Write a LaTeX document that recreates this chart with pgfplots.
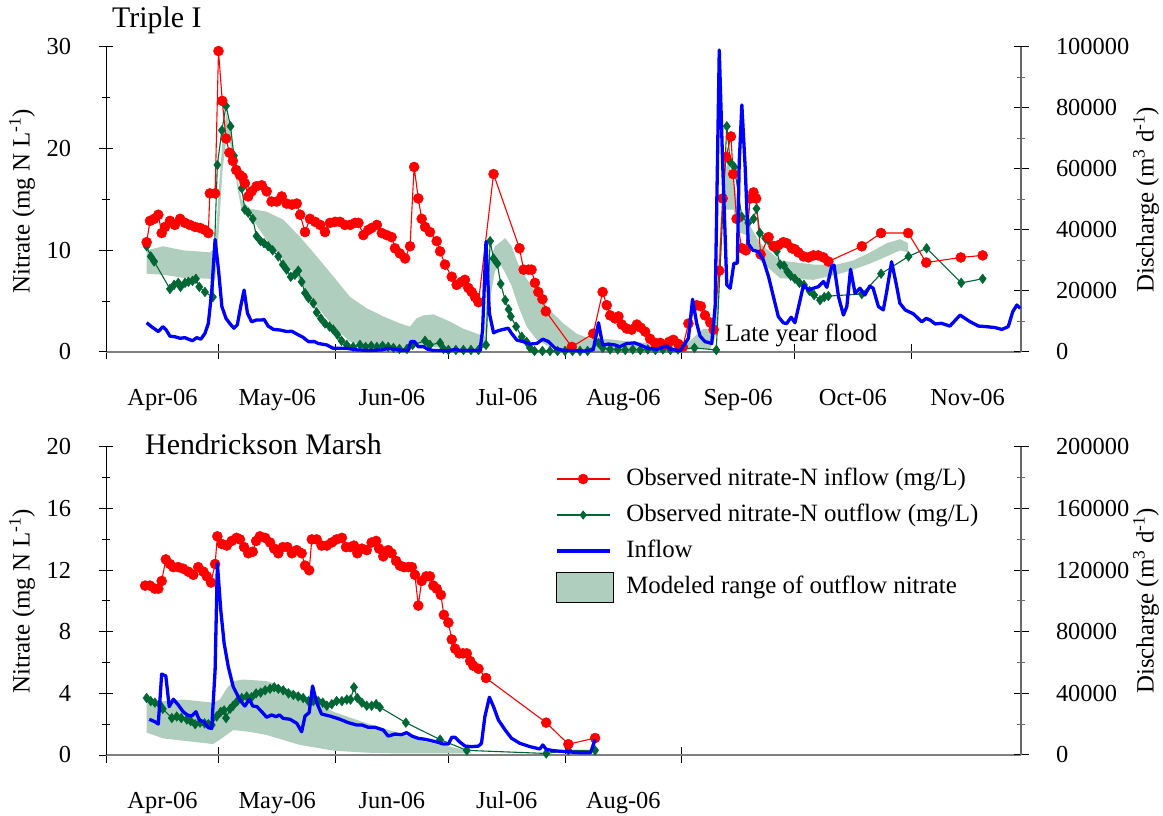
\documentclass[border=0pt]{standalone}
\usepackage{fontspec}
\setmainfont{Liberation Serif}
\usepackage{pgfplots}
\pgfplotsset{compat=1.18}
\definecolor{cred}{RGB}{255,0,0}
\definecolor{cgreen}{RGB}{0,102,51}
\definecolor{cblue}{RGB}{0,0,255}
\definecolor{cband}{RGB}{176,206,190}
\definecolor{caxgray}{RGB}{105,105,105}
\definecolor{cxline}{RGB}{128,128,128}
\pgfplotsset{
  common/.style={
    scale only axis, width=915bp, xmin=0, xmax=243.2, clip=false,
    tick label style={font=\fontsize{24.5}{28}\selectfont},
    scaled y ticks=false, scaled x ticks=false,
    major tick length=15bp, minor tick length=8bp,
    tick align=outside,
  },
  leftax/.style={common,
    axis x line=bottom, axis y line=left,
    axis line style={-},
    x axis line style={-, draw=cxline, line width=2bp},
    y axis line style={-, black, line width=1bp},
    tick style={black, line width=1bp},
    xticklabel style={yshift=-26bp},
    yticklabel style={xshift=-24bp},
    extra x tick style={tick style={draw=none}},
  },
  rightax/.style={common,
    axis x line=none, axis y line=right,
    axis line style={-},
    y axis line style={-, draw=caxgray, line width=1.5bp},
    major tick style={black, line width=1bp},
    minor tick style={caxgray, line width=1bp},
    yticklabel style={xshift=24bp},
  },
  redser/.style={draw=cred, line width=1.1bp, mark=*, mark size=5bp, mark options={fill=cred, draw=cred, line width=0.5bp}},
  greenser/.style={draw=cgreen, line width=1.1bp, mark=diamond*, mark size=4.8bp, mark options={fill=cgreen, draw=cgreen, line width=0.5bp}},
  blueser/.style={draw=cblue, line width=3.3bp, no marks, line join=round},
  bandser/.style={fill=cband, draw=none},
}
\begin{document}
\begin{tikzpicture}
\useasboundingbox (0,0) rectangle (1163bp,816bp);

% ---------------- Triple I : nitrate ----------------
\begin{axis}[leftax, at={(106bp,464bp)}, anchor=south west, height=305bp,
  ymin=0, ymax=30, ytick={0,10,20,30}, yticklabels={0,10,20,30}, minor ytick={5,15,25},
  xtick={0,30,61,91,122,153,183,214}, xticklabels={,,,,,,,},
  extra x ticks={15,45.5,76,106.5,137.5,168,198.5,229},
  extra x tick labels={Apr-06,May-06,Jun-06,Jul-06,Aug-06,Sep-06,Oct-06,Nov-06}]
\addplot[bandser] coordinates {
(10.8,10.0) (15.2,10.4) (20.5,10.0) (27.6,9.8) (29.0,10.2) (30.0,16.0) (31.0,21.0) (32.0,23.5) (33.0,22.0) (34.0,19.5) (35.0,17.0) (36.0,15.0) (38.3,14.1) (42.7,13.8) (47.2,13.0) (51.6,11.3) (56.0,9.4) (60.5,7.4) (64.9,5.4) (69.3,4.3) (73.7,3.5) (78.2,2.8) (80.8,2.5) (82.5,3.3) (84.4,3.6) (87.0,3.7) (91.4,3.0) (94.9,2.3) (99.4,1.7) (100.7,1.6) (101.6,8.7) (103.4,10.4) (106.1,11.2) (107.8,10.4) (109.6,8.6) (111.8,7.2) (114.5,5.8) (118.0,4.1) (121.6,2.8) (125.1,1.8) (128.7,1.3) (134.0,1.25) (139.3,1.0) (148.1,0.8) (153.4,0.5) (157.0,1.7) (158.8,2.3) (160.6,2.2) (162.0,4.0) (164.1,17.6) (165.4,18.6) (166.8,17.0) (168.1,14.0) (170.3,13.0) (173.8,10.7) (179.2,9.0) (188.0,8.6) (194.2,8.6) (198.6,9.0) (203.1,9.8) (207.5,10.7) (211.1,11.1) (213.2,10.7)
(213.2,9.8) (211.1,10.0) (207.5,9.4) (203.1,8.7) (198.6,8.1) (194.2,7.6) (188.0,7.1) (179.2,7.25) (173.8,9.0) (170.3,11.5) (168.1,11.8) (166.8,14.0) (165.4,14.0) (164.1,14.0) (162.5,2.0) (160.6,0.3) (157.0,0.3) (153.4,0.2) (139.3,0.1) (125.0,0.1) (121.6,0.3) (118.0,0.5) (114.5,1.2) (111.8,2.5) (109.6,4.5) (107.8,6.5) (106.1,7.8) (105.0,8.5) (103.4,8.0) (102.0,5.0) (101.0,0.5) (99.4,0.2) (91.4,0.3) (84.4,0.6) (78.2,0.4) (73.7,0.5) (69.3,0.6) (64.9,1.0) (60.5,2.5) (56.0,4.5) (51.6,7.0) (47.2,9.0) (42.7,11.0) (38.3,13.4) (36.0,14.0) (35.0,16.0) (34.0,18.5) (33.0,20.5) (32.0,21.0) (31.0,18.0) (30.0,12.0) (29.0,7.0) (27.6,7.2) (20.5,7.3) (15.2,7.6) (10.8,7.7)
} -- cycle;
\addplot[greenser] coordinates {
(10.8,10.4) (11.9,9.4) (12.8,8.9) (17.0,6.2) (18.1,6.6) (19.2,6.8) (19.8,6.4) (21.0,6.8) (21.9,6.9) (23.0,7.0) (23.9,7.2) (24.8,6.4) (26.3,5.9) (28.4,5.4) (29.6,18.4) (30.8,21.8) (31.9,24.2) (33.1,22.2) (34.0,19.3) (34.9,17.7) (36.1,16.1) (36.9,14.0) (37.8,13.7) (39.0,13.1) (40.0,11.4) (41.1,10.9) (42.0,10.7) (43.1,10.4) (44.3,10.0) (45.8,9.4) (47.0,8.6) (48.0,8.1) (49.1,7.4) (50.2,7.6) (51.1,8.0) (52.0,6.9) (52.9,5.8) (53.8,5.3) (55.1,4.8) (56.0,3.9) (57.1,3.3) (58.2,2.8) (59.4,2.5) (60.4,2.2) (61.5,1.7) (62.6,1.1) (64.0,0.7) (65.7,0.5) (67.5,0.7) (69.0,0.5) (70.5,0.6) (72.0,0.5) (73.5,0.6) (75.0,0.5) (76.4,0.4) (78.0,0.3) (80.0,0.3) (81.5,0.7) (84.8,1.1) (86.1,0.7) (88.8,0.9) (89.7,0.3) (91.0,0.2) (93.0,0.2) (95.0,0.2) (97.0,0.2) (99.0,0.2) (101.0,0.7) (102.1,10.9) (103.0,9.2) (104.0,8.7) (104.9,6.7) (106.1,5.1) (107.0,4.2) (107.6,3.5) (109.0,2.5) (110.5,1.5) (111.8,1.0) (112.7,0.4) (113.9,0.1) (116.0,0.1) (118.0,0.1) (120.0,0.1) (122.0,0.1) (124.0,0.1) (126.0,0.1) (128.0,0.1) (130.9,0.9) (132.0,0.4) (134.0,0.25) (136.0,0.25) (138.0,0.2) (140.0,0.25) (142.0,0.2) (144.0,0.25) (146.0,0.2) (148.0,0.25) (150.0,0.2) (152.0,0.25) (156.4,0.4) (162.2,0.2) (165.0,22.2) (165.9,18.7) (167.0,18.2) (169.0,13.3) (170.7,12.7) (172.1,13.1) (172.9,14.1) (173.8,11.7) (175.2,11.2) (176.0,11.0) (177.2,10.4) (178.3,9.9) (179.2,8.6) (180.2,8.5) (181.1,7.9) (182.0,7.5) (183.1,7.2) (184.3,6.8) (185.5,6.6) (187.0,6.0) (188.2,5.6) (189.8,5.1) (190.9,5.4) (192.0,5.5) (200.9,5.7) (206.0,7.7) (213.3,9.4) (218.1,10.2) (227.3,6.8) (233.0,7.2)
};
\addplot[redser] coordinates {
(10.8,10.8) (11.7,12.9) (12.8,13.1) (13.9,13.5) (14.8,11.7) (15.7,12.3) (17.0,12.9) (18.3,12.5) (19.7,13.1) (21.0,12.7) (22.3,12.5) (23.7,12.3) (25.0,12.2) (26.3,12.0) (27.2,11.7) (27.6,15.6) (29.0,15.6) (29.9,29.6) (30.9,24.7) (31.9,21.0) (32.8,19.6) (33.7,18.8) (34.6,17.9) (35.6,17.4) (36.3,17.2) (36.9,16.6) (37.8,15.3) (38.7,15.8) (40.0,16.3) (41.4,16.4) (42.7,15.8) (44.0,14.8) (45.4,14.8) (46.7,15.3) (48.0,14.6) (49.4,14.5) (50.7,14.6) (51.6,13.5) (52.9,11.8) (54.2,13.1) (55.6,12.8) (56.9,12.5) (58.2,11.8) (59.5,12.7) (60.9,12.8) (62.2,12.8) (63.5,12.5) (64.9,12.5) (66.2,12.7) (67.1,12.7) (68.4,11.5) (69.7,12.0) (70.6,12.2) (72.0,12.5) (73.3,11.7) (74.6,11.5) (75.9,11.3) (76.8,10.2) (78.1,9.7) (79.5,9.2) (80.8,10.4) (81.9,18.2) (83.0,15.1) (83.9,13.1) (84.8,12.3) (86.1,11.8) (87.9,10.9) (88.8,9.9) (90.1,8.6) (91.9,7.4) (93.2,6.6) (94.5,6.9) (95.4,7.1) (96.3,6.3) (97.2,5.9) (98.1,5.4) (99.0,4.9) (103.0,17.5) (109.9,10.2) (111.0,8.1) (112.3,8.1) (113.1,8.1) (114.0,6.8) (114.9,5.9) (116.0,5.2) (116.9,4.0) (123.8,0.5) (129.5,1.8) (132.0,5.9) (133.1,4.6) (134.0,3.6) (135.3,3.3) (136.2,3.5) (137.1,2.7) (138.4,2.3) (139.7,2.2) (141.1,2.7) (142.1,2.4) (143.3,2.0) (144.6,1.3) (145.9,0.9) (147.3,0.9) (148.6,0.7) (149.7,1.0) (150.8,1.2) (152.1,0.8) (153.3,0.5) (154.8,2.8) (157.0,4.6) (158.1,4.5) (159.2,3.6) (160.6,2.9) (161.5,2.2) (163.0,8.0) (163.9,15.1) (164.8,19.2) (166.1,21.2) (166.7,17.5) (167.6,13.1) (169.0,10.2) (170.1,10.0) (171.2,15.1) (172.1,15.7) (172.8,15.1) (174.0,9.6) (176.1,11.3) (177.4,10.4) (178.7,10.5) (180.0,10.8) (180.9,10.7) (182.3,10.2) (183.1,10.1) (184.0,9.8) (185.4,9.4) (186.7,9.3) (188.0,9.5) (189.3,9.5) (190.7,9.3) (192.0,8.9) (200.9,10.4) (206.0,11.7) (213.2,11.7) (218.0,8.8) (227.2,9.3) (233.0,9.5)
};
\node[anchor=west, inner sep=0pt, font=\fontsize{25}{30}\selectfont] at (axis cs:164.5,1.67) {Late year flood};
\end{axis}

% ---------------- Triple I : discharge ----------------
\begin{axis}[rightax, at={(106bp,464bp)}, anchor=south west, height=305bp,
  ymin=0, ymax=100000, ytick={0,20000,40000,60000,80000,100000},
  yticklabels={0,20000,40000,60000,80000,100000},
  minor ytick={10000,30000,50000,70000,90000}]
\addplot[blueser] coordinates {
(10.8,9600) (12.1,8300) (13.9,6700) (15.1,8300) (15.9,7400) (17.0,5200) (18.3,5000) (19.7,4500) (21.0,4700) (21.9,4200) (23.0,3700) (24.1,4700) (25.2,4200) (26.3,6100) (27.2,9400) (28.1,19800) (29.0,36900) (29.9,26900) (30.8,14900) (31.9,11000) (33.0,9200) (34.0,7800) (34.9,8900) (35.8,14900) (36.7,20300) (37.6,12700) (38.7,9900) (40.0,10500) (41.4,10500) (42.0,10700) (43.1,8500) (44.5,7400) (46.3,7200) (48.0,6700) (49.4,6800) (50.7,5900) (52.4,4800) (53.8,3400) (55.4,3400) (56.4,2800) (58.7,2300) (60.4,1200) (64.0,1200) (66.6,700) (70.0,500) (73.5,700) (75.0,1200) (76.5,900) (79.0,500) (80.3,500) (81.0,3400) (82.0,3400) (83.0,1700) (84.5,1700) (85.5,900) (87.0,500) (89.0,500) (91.0,300) (92.8,900) (94.0,500) (99.4,500) (100.1,7200) (101.0,36200) (101.9,12700) (103.0,6300) (104.3,7000) (105.6,7400) (106.9,7800) (107.8,6100) (109.2,3900) (110.9,3400) (112.7,2600) (114.5,2800) (116.1,4200) (117.6,3400) (119.4,1200) (121.6,500) (124.0,500) (127.0,300) (129.5,700) (130.9,9600) (132.0,2300) (133.5,2600) (135.3,2300) (136.5,1700) (138.4,2800) (140.5,3000) (142.0,2300) (144.0,1200) (146.5,900) (149.0,2000) (150.0,900) (152.6,400) (154.8,4500) (155.9,17300) (157.0,9400) (157.9,5200) (159.2,3400) (161.0,2800) (161.9,14900) (163.0,99000) (163.9,61900) (165.0,22000) (165.9,20900) (166.9,29100) (167.8,29100) (168.3,61900) (169.0,81000) (169.9,60200) (170.7,35600) (171.9,33400) (173.4,32900) (174.7,30200) (176.1,24700) (177.4,18100) (178.7,11600) (180.0,9600) (180.9,9300) (182.1,11400) (183.1,9600) (184.3,16000) (185.4,22000) (186.7,20300) (188.0,20900) (189.3,21400) (190.7,23100) (191.6,21200) (192.9,28200) (193.5,28500) (194.7,18100) (196.0,12100) (196.9,14900) (197.9,27100) (199.1,19200) (200.4,20900) (201.7,18700) (203.0,21600) (203.9,20900) (205.3,14900) (206.6,13800) (207.5,19800) (208.8,29600) (210.0,22500) (211.0,16000) (212.4,13800) (214.6,12500) (216.8,9900) (218.0,11000) (219.0,10500) (220.4,9200) (222.1,9400) (224.3,8500) (227.0,12100) (229.7,9900) (231.9,8500) (234.1,8300) (236.3,8000) (238.1,7400) (239.8,8300) (241.0,13200) (242.1,15400) (243.0,14300)
};
\end{axis}

% ---------------- Hendrickson Marsh : nitrate ----------------
\begin{axis}[leftax, at={(106bp,61bp)}, anchor=south west, height=308bp,
  ymin=0, ymax=20, ytick={0,4,8,12,16,20}, yticklabels={0,4,8,12,16,20}, minor ytick={2,6,10,14,18},
  xtick={0,30,61,91,122,153}, xticklabels={,,,,,},
  extra x ticks={15,45.5,76,106.5,137.5},
  extra x tick labels={Apr-06,May-06,Jun-06,Jul-06,Aug-06},
  legend image code/.code={\draw[mark repeat=2,mark phase=2,#1] plot coordinates {(0bp,0bp) (26.5bp,0bp) (53bp,0bp)};},
  legend cell align=left,
  legend style={at={(rel axis cs:0.4907,0.935)}, anchor=north west, draw=none, fill=none,
    inner sep=0pt, outer sep=0pt, font=\fontsize{25}{30}\selectfont, row sep=12bp,
    nodes={inner sep=0pt, text height=18bp, text depth=6bp},
    /tikz/every odd column/.append style={column sep=15bp}}]
\addlegendimage{redser}
\addlegendentry{Observed nitrate-N inflow (mg/L)}
\addlegendimage{draw=cgreen, line width=1.1bp, mark=diamond*, mark size=3.8bp, mark options={fill=cgreen, draw=cgreen}}
\addlegendentry{Observed nitrate-N outflow (mg/L)}
\addlegendimage{draw=cblue, line width=3.3bp}
\addlegendentry{Inflow}
\addlegendimage{legend image code/.code={\fill[fill=cband, overlay] (0bp,-15bp) rectangle (57bp,15bp);}}
\addlegendentry{Modeled range of outflow nitrate}
\addplot[bandser, forget plot] coordinates {
(10.8,3.4) (15.2,3.5) (20.5,3.6) (28.5,3.4) (30.3,3.6) (32.0,4.3) (33.8,4.8) (36.5,4.9) (42.7,4.8) (51.6,4.0) (60.5,2.8) (69.3,2.06) (78.2,1.4) (83.5,0.95) (87.0,0.76) (91.4,0.54) (95.9,0.3) (97.0,0.15)
(97.0,0.1) (91.4,0.1) (78.2,0.1) (69.3,0.15) (60.5,0.28) (51.6,0.65) (42.7,1.3) (38.3,1.5) (33.8,1.62) (30.3,1.0) (28.5,0.71) (20.5,0.93) (15.2,1.08) (10.8,1.45)
} -- cycle;
\addplot[greenser, forget plot] coordinates {
(10.8,3.7) (11.9,3.5) (13.0,3.4) (14.2,3.3) (15.1,3.0) (17.5,2.4) (18.8,2.5) (20.0,2.4) (21.5,2.3) (22.5,2.2) (23.7,2.0) (25.0,2.1) (26.2,2.05) (27.2,2.0) (28.1,1.95) (29.4,2.5) (30.5,2.8) (31.4,2.9) (31.9,2.4) (33.0,3.0) (33.8,3.2) (34.9,3.5) (36.1,3.7) (37.4,3.8) (38.7,3.75) (39.9,4.0) (41.1,4.05) (42.3,4.2) (43.6,4.3) (44.7,4.4) (45.8,4.3) (47.1,4.2) (48.5,4.0) (49.8,3.9) (51.1,3.8) (52.4,3.7) (53.8,3.5) (55.1,3.5) (56.4,3.5) (57.6,3.4) (58.7,3.2) (60.0,3.3) (61.3,3.5) (62.7,3.5) (64.0,3.6) (65.0,3.6) (65.9,4.4) (66.8,3.7) (68.0,3.4) (69.3,3.2) (70.6,3.2) (71.8,3.3) (72.8,3.1) (79.7,2.1) (88.8,1.0) (95.9,0.3) (117.0,0.1) (122.9,0.3) (130.0,0.3)
};
\addplot[redser, forget plot] coordinates {
(10.4,11.0) (11.7,11.0) (13.0,10.8) (13.9,10.8) (14.8,11.3) (15.9,12.7) (17.0,12.4) (17.9,12.2) (19.2,12.2) (20.5,12.1) (21.9,11.9) (23.2,11.7) (24.5,12.2) (25.9,11.9) (26.8,11.6) (27.9,11.2) (29.0,12.4) (29.6,14.2) (30.8,13.7) (32.1,13.6) (33.4,13.9) (34.7,14.1) (35.6,14.0) (36.7,13.5) (37.8,13.1) (39.0,13.2) (39.9,13.9) (40.9,14.2) (42.3,14.1) (43.6,13.8) (44.7,13.4) (45.8,13.1) (47.0,13.5) (48.2,13.5) (49.4,13.1) (50.7,13.3) (52.0,13.1) (52.9,12.3) (54.0,12.0) (54.7,14.0) (56.0,14.0) (57.3,13.6) (58.7,13.6) (60.0,13.8) (61.3,14.0) (62.7,14.1) (63.8,13.5) (65.0,13.5) (65.9,13.6) (66.8,13.1) (68.0,13.4) (69.3,13.3) (70.6,13.8) (71.8,13.9) (72.6,13.4) (73.7,12.9) (75.0,13.3) (75.9,13.1) (77.1,12.6) (78.1,12.3) (79.2,12.2) (80.4,12.2) (81.3,12.2) (82.1,11.7) (83.0,9.7) (83.9,11.3) (85.1,11.6) (86.1,11.6) (87.0,11.0) (87.9,10.8) (89.0,10.4) (89.8,9.1) (91.0,8.6) (91.9,7.5) (92.8,6.9) (93.9,6.6) (94.9,6.6) (95.9,6.6) (96.8,6.1) (97.6,5.8) (99.0,5.6) (101.0,5.0) (117.0,2.1) (122.9,0.7) (130.0,1.1)
};
\end{axis}

% ---------------- Hendrickson Marsh : discharge ----------------
\begin{axis}[rightax, at={(106bp,61bp)}, anchor=south west, height=308bp,
  ymin=0, ymax=200000, ytick={0,40000,80000,120000,160000,200000},
  yticklabels={0,40000,80000,120000,160000,200000},
  minor ytick={20000,60000,100000,140000,180000}]
\addplot[blueser] coordinates {
(11.5,23200) (13.0,21600) (13.9,20100) (14.8,52600) (15.9,51300) (16.8,31400) (17.9,36200) (19.2,32500) (20.5,28100) (21.6,26000) (22.8,25300) (23.9,28100) (24.8,22700) (26.0,21600) (27.2,17700) (28.1,17300) (29.0,55200) (29.6,124500) (30.5,94200) (31.4,72500) (32.5,57300) (33.8,44400) (35.6,35700) (36.9,31800) (38.1,36200) (39.0,31800) (40.1,31400) (41.4,28100) (42.7,24500) (44.0,26000) (45.2,24900) (46.1,26000) (47.1,23800) (48.9,23200) (50.7,20600) (52.0,15100) (52.9,25300) (54.0,27500) (54.9,44800) (56.0,34000) (57.3,26600) (59.5,25300) (62.2,23200) (64.4,21000) (66.6,19500) (68.0,19500) (69.7,18000) (71.5,18000) (73.7,16200) (75.0,12300) (76.8,13600) (78.5,13200) (79.9,14500) (81.3,12300) (83.0,10800) (84.8,10200) (86.1,9500) (88.3,8200) (89.7,7100) (91.0,7100) (91.9,11500) (92.8,11500) (93.9,8700) (95.4,5800) (97.2,5400) (99.0,5800) (99.8,7600) (100.7,24900) (101.9,37500) (103.0,31400) (104.3,22700) (106.1,16200) (107.8,10800) (110.0,7600) (112.7,5400) (115.3,3900) (116.1,6500) (117.0,3700) (118.9,2800) (122.5,2100) (126.0,1500) (128.8,1500) (130.0,10200)
};
\end{axis}

% ---------------- titles and axis labels ----------------
\node[anchor=base west, inner sep=0pt, font=\fontsize{30}{36}\selectfont] at (112bp,788bp) {Triple I};
\node[anchor=base west, inner sep=0pt, font=\fontsize{30}{36}\selectfont] at (145bp,361bp) {Hendrickson Marsh};
\node[rotate=90, inner sep=0pt, font=\fontsize{25}{30}\selectfont] at (22bp,615bp) {Nitrate (mg N L\textsuperscript{-1})};
\node[rotate=90, inner sep=0pt, font=\fontsize{25}{30}\selectfont] at (22bp,215bp) {Nitrate (mg N L\textsuperscript{-1})};
\node[rotate=90, inner sep=0pt, font=\fontsize{25}{30}\selectfont] at (1146bp,616bp) {Discharge (m\textsuperscript{3} d\textsuperscript{-1})};
\node[rotate=90, inner sep=0pt, font=\fontsize{25}{30}\selectfont] at (1146bp,215bp) {Discharge (m\textsuperscript{3} d\textsuperscript{-1})};
\end{tikzpicture}
\end{document}
